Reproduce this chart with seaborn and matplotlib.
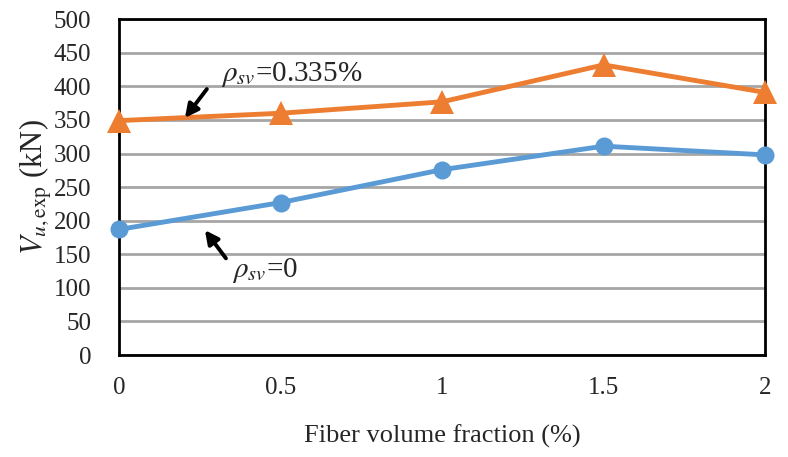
import matplotlib
matplotlib.use("Agg")
import matplotlib.pyplot as plt
import seaborn as sns
from pandas import DataFrame

fiber_fraction = [0, 0.5, 1, 1.5, 2]
v_rho0 = [187, 227, 276, 311, 298]
v_rho335 = [349, 360, 377, 432, 391]

df = DataFrame({"vf": fiber_fraction * 2,
                "V": v_rho0 + v_rho335,
                "series": ["rho0"] * 5 + ["rho335"] * 5})

sns.set_style("white")
plt.rcParams['font.family'] = ['Liberation Serif', 'DejaVu Serif']
plt.rcParams['mathtext.fontset'] = 'stix'

fig = plt.figure(figsize=(7.88, 4.57), dpi=100)
ax = fig.add_axes([0.151, 0.223, 0.820, 0.735])

ax.yaxis.grid(True, color="#A6A6A6", lw=2)
ax.set_axisbelow(True)

sns.lineplot(data=df[df.series == "rho0"], x="vf", y="V", ax=ax, color="#5B9BD5",
             lw=3.5, marker="o", markersize=13, markeredgewidth=0, clip_on=False, zorder=3)
sns.lineplot(data=df[df.series == "rho335"], x="vf", y="V", ax=ax, color="#ED7D31",
             lw=3.5, marker="^", markersize=17, markeredgewidth=0, clip_on=False, zorder=3)

ax.set_xlim(0, 2)
ax.set_ylim(0, 500)
ax.set_xticks(fiber_fraction)
ax.set_xticklabels(["0", "0.5", "1", "1.5", "2"])
ax.set_yticks(range(0, 501, 50))
for s in ax.spines.values():
    s.set_color("black")
    s.set_linewidth(2)
ax.tick_params(axis="x", direction="in", length=7, width=2, pad=16, labelsize=18)
ax.tick_params(axis="y", length=0, pad=20, labelsize=18)

ax.set_xlabel("Fiber volume fraction (%)", fontsize=19, labelpad=18)
ax.set_ylabel(r"$V_{u,\mathrm{exp}}$ (kN)", fontsize=22, labelpad=0)

arrow = dict(arrowstyle="-|>", color="black", lw=2.8, mutation_scale=20,
             shrinkA=0, shrinkB=0)
ax.annotate("", xy=(0.204, 353), xytext=(0.272, 396), arrowprops=arrow)
ax.text(0.315, 417, r"$\rho_{sv}$=0.335%", fontsize=21, va="center")
ax.annotate("", xy=(0.266, 186), xytext=(0.331, 144), arrowprops=arrow)
ax.text(0.35, 126, r"$\rho_{sv}$=0", fontsize=21, va="center")

plt.savefig("out.png", dpi=100)
